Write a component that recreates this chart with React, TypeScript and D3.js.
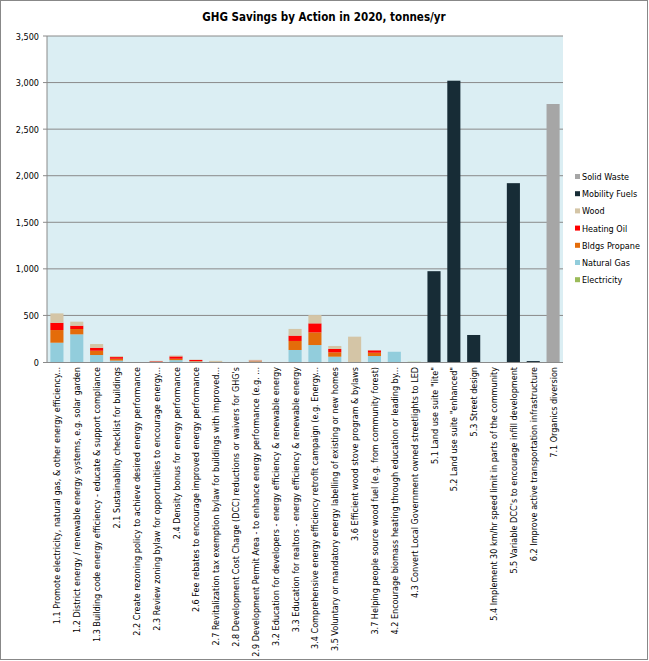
import React from "react";
import * as d3 from "d3";

const categories = [
  "1.1 Promote electricity, natural gas, & other energy efficiency...",
  "1.2 District energy / renewable energy systems, e.g. solar garden",
  "1.3 Building code energy efficiency - educate & support compliance",
  "2.1 Sustainability checklist for buildings",
  "2.2 Create rezoning policy to achieve desired energy performance",
  "2.3 Review zoning bylaw for opportunities to encourage energy...",
  "2.4 Density bonus for energy performance",
  "2.6 Fee rebates to encourage improved energy performance",
  "2.7 Revitalization tax exemption bylaw for buildings with improved...",
  "2.8 Development Cost Charge (DCC) reductions or waivers for GHG's",
  "2.9 Development Permit Area - to enhance energy performance (e.g. ...",
  "3.2 Education for developers - energy efficiency & renewable energy",
  "3.3 Education for realtors - energy efficiency & renewable energy",
  "3.4 Comprehensive energy efficiency retrofit campaign (e.g. Energy...",
  "3.5 Voluntary or mandatory energy labelling of existing or new homes",
  "3.6 Efficient wood stove program & bylaws",
  "3.7 Helping people source wood fuel (e.g. from community forest)",
  "4.2 Encourage biomass heating through education or leading by...",
  "4.3 Convert Local Government owned streetlights to LED",
  "5.1 Land use suite \"lite\"",
  "5.2 Land use suite \"enhanced\"",
  "5.3 Street design",
  "5.4 Implement 30 km/hr speed limit in parts of the community",
  "5.5 Variable DCC's to encourage infill development",
  "6.2 Improve active transportation infrastructure",
  "7.1 Organics diversion",
];

const electricity = [0, 0, 0, 0, 0, 0, 0, 0, 0, 0, 0, 0, 0, 0, 0, 0, 0, 0, 2, 0, 0, 0, 0, 0, 0, 0];
const naturalGas = [207, 297, 75, 15, 0, 3, 20, 5, 0, 0, 5, 0, 129, 182, 57, 0, 64, 110, 0, 0, 0, 0, 0, 0, 0, 0];
const bldgsPropane = [136, 57, 46, 20, 0, 3, 15, 5, 0, 0, 5, 0, 97, 136, 47, 0, 36, 0, 0, 0, 0, 0, 0, 0, 0, 0];
const heatingOil = [78, 36, 32, 18, 0, 4, 25, 12, 0, 0, 5, 0, 57, 97, 36, 0, 25, 0, 0, 0, 0, 0, 0, 0, 0, 0];
const wood = [101, 43, 40, 10, 0, 2, 10, 3, 12, 0, 8, 0, 72, 89, 32, 272, 3, 0, 0, 0, 0, 0, 0, 0, 0, 0];
const mobilityFuels = [0, 0, 0, 0, 0, 0, 0, 0, 0, 0, 0, 0, 0, 0, 0, 0, 0, 0, 0, 975, 3020, 290, 0, 1920, 10, 0];
const solidWaste = [0, 0, 0, 0, 0, 0, 0, 0, 0, 0, 0, 0, 0, 0, 0, 0, 0, 0, 0, 0, 0, 0, 0, 0, 0, 2770];

const seriesNames = ["Electricity", "Natural Gas", "Bldgs Propane", "Heating Oil", "Wood", "Mobility Fuels", "Solid Waste"];
const seriesValues = [electricity, naturalGas, bldgsPropane, heatingOil, wood, mobilityFuels, solidWaste];
const seriesColors = ["#9bbb59", "#92cddc", "#e46c0a", "#ff0000", "#d4c5a6", "#172c36", "#a6a6a6"];
const yTicks = [0, 500, 1000, 1500, 2000, 2500, 3000, 3500];

const W = 649;
const H = 661;
const left = 47;
const right = 563;
const top = 36;
const bottom = 362;

export default function App() {
  const x = d3.scaleBand<string>().domain(categories).range([left, right]).paddingInner(0.34).paddingOuter(0.17);
  const y = d3.scaleLinear().domain([0, 3500]).range([bottom, top]);

  const rows = categories.map((c, i) => {
    const r: any = { cat: c };
    seriesNames.forEach((s, k) => (r[s] = seriesValues[k][i]));
    return r;
  });
  const stacked = d3.stack<any>().keys(seriesNames)(rows);
  const fmt = d3.format(",");
  const font = "Tahoma, 'DejaVu Sans Condensed', 'Liberation Sans Narrow', 'Liberation Sans', sans-serif";

  return (
    <div style={{ position: "absolute", left: 0, top: 0 }}>
      <svg width={W} height={H} style={{ display: "block", fontFamily: font }}>
        <rect x={0} y={0} width={W} height={H} fill="#ffffff" />
        <rect x={0.5} y={0.5} width={W - 2} height={H - 2} fill="none" stroke="#888" strokeWidth={1} />
        <text x={324} y={21} textAnchor="middle" fontSize={11.5} fontWeight="bold" fill="#000">
          GHG Savings by Action in 2020, tonnes/yr
        </text>
        <rect x={left} y={top} width={right - left} height={bottom - top} fill="#dbeef3" />
        {yTicks.map((t) => (
          <g key={t}>
            {t > 0 && <line x1={left - 4} x2={right} y1={y(t)} y2={y(t)} stroke="#8a8a8a" strokeWidth={1} />}
            <text x={39} y={y(t) + 3.5} textAnchor="end" fontSize={9} fill="#000">
              {fmt(t)}
            </text>
          </g>
        ))}
        {stacked.map((s, k) =>
          s.map((d, i) =>
            d[1] - d[0] > 0 ? (
              <rect
                key={k + "-" + i}
                x={x(categories[i])}
                width={x.bandwidth()}
                y={y(d[1])}
                height={y(d[0]) - y(d[1])}
                fill={seriesColors[k]}
              />
            ) : null
          )
        )}
        <line x1={left} x2={left} y1={top} y2={bottom} stroke="#8a8a8a" />
        <line x1={left - 4} x2={right} y1={bottom + 0.5} y2={bottom + 0.5} stroke="#8a8a8a" />
        {categories.map((c) => (
          <text
            key={c}
            transform={`translate(${(x(c) as number) + x.bandwidth() / 2 + 3.5},367) rotate(-90)`}
            textAnchor="end"
            fontSize={9}
            fill="#000"
          >
            {c}
          </text>
        ))}
        {seriesNames
          .slice()
          .reverse()
          .map((s, j) => {
            const k = seriesNames.indexOf(s);
            return (
              <g key={s} transform={`translate(575,${177 + j * 17.2})`}>
                <rect x={0} y={-3} width={5} height={5} fill={seriesColors[k]} />
                <text x={7} y={3} fontSize={9} fill="#000">
                  {s}
                </text>
              </g>
            );
          })}
      </svg>
    </div>
  );
}
